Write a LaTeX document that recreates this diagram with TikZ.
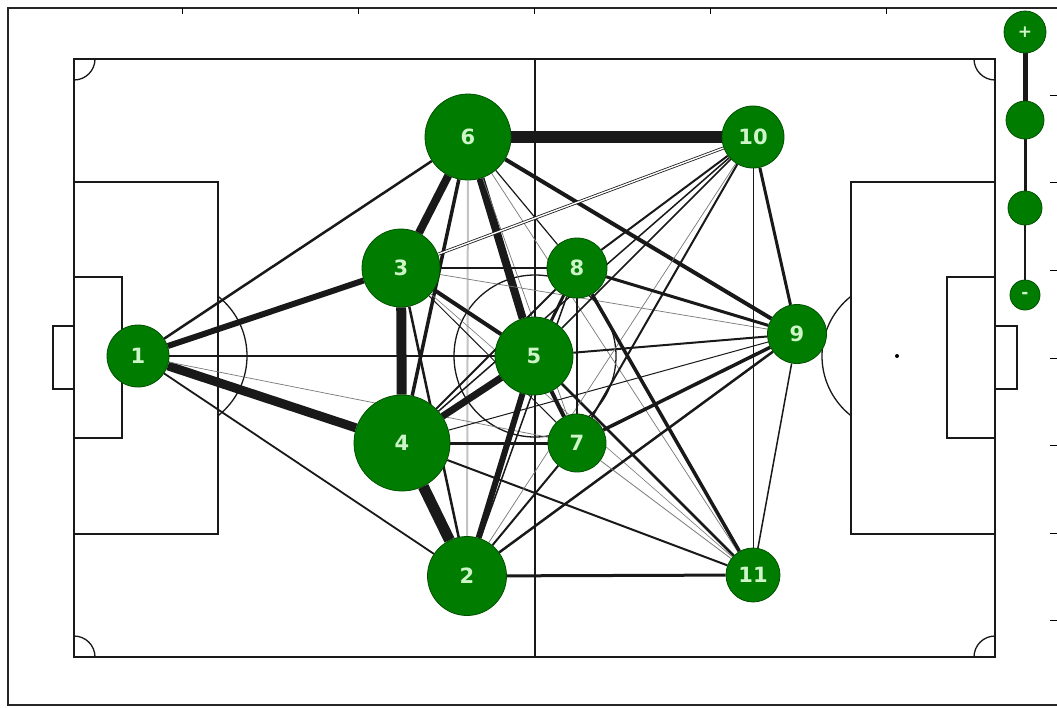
\documentclass[tikz,border=0pt]{standalone}
\usepackage{fontspec}
\newfontfamily\labfont{DejaVu Sans}
\pgfdeclarelayer{pitch}
\pgfdeclarelayer{edges}
\pgfsetlayers{pitch,edges,main}
\definecolor{pgreen}{RGB}{0,125,0}
\definecolor{pdark}{RGB}{0,80,0}
\definecolor{plab}{RGB}{205,245,200}
\definecolor{ek}{RGB}{25,25,25}
\definecolor{eg}{RGB}{120,120,120}
\definecolor{elg}{RGB}{195,195,195}
\tikzset{
  player/.style={circle, fill=pgreen, draw=pdark, line width=0.8pt, inner sep=0pt,
    text=plab, font=\labfont\bfseries\fontsize{21}{21}\selectfont},
  legnode/.style={circle, fill=pgreen, draw=pdark, line width=0.8pt, inner sep=0pt,
    text=plab, font=\labfont\bfseries\fontsize{17}{17}\selectfont},
  pline/.style={line width=1.3pt, draw=black!90},
  frameline/.style={line width=1.2pt, draw=black!85},
  edge/.style={line cap=butt}
}
\begin{document}
\begin{tikzpicture}[x=1pt,y=-1pt]
\useasboundingbox (0,0) rectangle (1057,707);
\clip (0,0) rectangle (1057,707);

% players
\node[player, minimum size=62pt] (n1) at (138,356) {1};
\node[player, minimum size=79pt] (n2) at (467,576) {2};
\node[player, minimum size=78pt] (n3) at (401,268) {3};
\node[player, minimum size=96pt] (n4) at (402,443) {4};
\node[player, minimum size=78pt] (n5) at (534,356) {5};
\node[player, minimum size=86pt] (n6) at (468,137) {6};
\node[player, minimum size=58pt] (n7) at (577,443) {7};
\node[player, minimum size=60pt] (n8) at (577,268) {8};
\node[player, minimum size=59pt] (n9) at (797,334) {9};
\node[player, minimum size=62pt] (n10) at (753,137) {10};
\node[player, minimum size=54pt] (n11) at (753,575) {11};

% legend
\node[legnode, minimum size=42pt] (lg1) at (1025,32) {+};
\node[legnode, minimum size=38pt] (lg2) at (1025,120) {};
\node[legnode, minimum size=34pt] (lg3) at (1025,208) {};
\node[legnode, minimum size=30pt] (lg4) at (1025,295) {-};

\begin{pgfonlayer}{pitch}
  \fill[white] (0,0) rectangle (1057,707);
  % frame
  \draw[frameline] (8,8) rectangle (1070,705);
  \foreach \x in {182,358,534,710,886} \draw[line width=0.8pt] (\x,8) -- (\x,14);
  \foreach \y in {95,182,270,358,445,533,620} \draw[line width=0.8pt] (1050,\y) -- (1057,\y);
  % pitch outline
  \draw[pline] (74,59) rectangle (995,657);
  \draw[pline] (535,59) -- (535,657);
  \draw[pline] (535,356) circle (81pt);
  % left boxes
  \draw[pline] (74,182) rectangle (218,534);
  \draw[pline] (74,277) rectangle (122,438);
  \draw[pline] (74,326) -- (53,326) -- (53,389) -- (74,389);
  % right boxes
  \draw[pline] (995,182) rectangle (851,534);
  \draw[pline] (995,277) rectangle (947,438);
  \draw[pline] (995,326) -- (1017,326) -- (1017,389) -- (995,389);
  \fill (897,356) circle (2pt);
  % penalty arcs
  \begin{scope}
    \clip (218,0) rectangle (400,707);
    \draw[pline] (171,356) circle (76pt);
  \end{scope}
  \begin{scope}
    \clip (600,0) rectangle (851,707);
    \draw[pline] (898,356) circle (76pt);
  \end{scope}
  % corner arcs
  \begin{scope}
    \clip (74,59) rectangle (995,657);
    \draw[pline] (74,59) circle (21pt);
    \draw[pline] (995,59) circle (21pt);
    \draw[pline] (74,657) circle (21pt);
    \draw[pline] (995,657) circle (21pt);
  \end{scope}
\end{pgfonlayer}

\begin{pgfonlayer}{edges}
  \foreach \a/\b/\w/\c in {
    6/2/2/elg,
    1/6/2.5/ek, 1/3/6/ek, 1/5/2.5/ek, 1/4/9/ek, 1/7/0.7/eg, 1/2/1.8/ek,
    6/10/12/ek, 6/3/8/ek, 6/4/3.5/ek, 6/5/8/ek, 6/9/4/ek, 6/8/1.2/ek,
    6/7/0.7/eg, 6/11/0.7/eg,
    3/4/10/ek, 3/5/4/ek, 3/2/2.5/ek, 3/8/1.5/ek, 3/9/0.7/eg, 3/7/1/ek, 3/11/0.6/eg,
    4/5/7/ek, 4/2/11/ek, 4/7/3/ek, 4/8/2/ek, 4/9/1/ek, 4/10/1.5/ek, 4/11/2/ek,
    5/2/6/ek, 5/7/4/ek, 5/8/3/ek, 5/9/2/ek, 5/10/1.5/ek, 5/11/2.5/ek,
    2/7/2/ek, 2/8/1.5/ek, 2/9/2.5/ek, 2/10/0.7/eg, 2/11/3/ek,
    7/8/1.5/ek, 7/9/3.5/ek, 7/10/2/ek, 7/11/0.8/eg,
    8/9/3/ek, 8/10/2/ek, 8/11/3.5/ek,
    9/10/3/ek, 9/11/1.5/ek, 10/11/1/ek}
    \draw[edge, line width=\w pt, draw=\c] (n\a) -- (n\b);
  \draw[edge, draw=ek, line width=0.8pt, double=white, double distance=1.4pt] (n3) -- (n10);
  % legend connectors
  \draw[edge, draw=ek, line width=5pt] (lg1) -- (lg2);
  \draw[edge, draw=ek, line width=3pt] (lg2) -- (lg3);
  \draw[edge, draw=ek, line width=1.2pt] (lg3) -- (lg4);
\end{pgfonlayer}
\end{tikzpicture}
\end{document}
